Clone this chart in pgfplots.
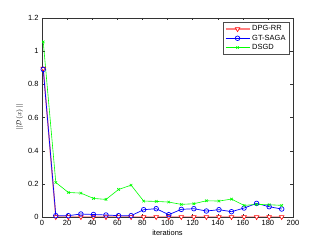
\documentclass[border=0pt]{standalone}
\usepackage{pgfplots}
\pgfplotsset{compat=1.18}
\usepackage{fontspec}
\setmainfont{Liberation Sans}
\begin{document}
\begin{tikzpicture}
\begin{axis}[
  scale only axis, width=251pt, height=199pt,
  xmin=0, xmax=200, ymin=0, ymax=1.2,
  xtick={0,20,...,200}, ytick={0,0.2,...,1.2},
  yticklabels={0,0.2,0.4,0.6,0.8,1,1.2},
  tick align=inside, tick pos=both,
  major tick length=2.5pt,
  axis line style={black!80, line width=0.4pt},
  tick style={black!80},
  font=\fontsize{7.5}{9}\selectfont,
  /pgf/number format/assume math mode=true,
  xlabel={iterations}, ylabel={$||\mathcal{D}(x)||$},
  xlabel style={yshift=3pt}, ylabel style={yshift=-2pt},
  legend style={font=\fontsize{7.5}{9}\selectfont, draw=black!70, inner sep=1.5pt, row sep=-1.5pt, at={(0.985,0.98)}, anchor=north east},
  legend cell align=left,
  legend image code/.code={\draw[#1] (0pt,0pt) -- (24pt,0pt); \draw[#1, only marks] plot coordinates {(12pt,0pt)};},
]
\addplot[draw=red!50, line width=1.3pt, mark=triangle*, mark size=2.6pt, mark options={rotate=180, draw=red, fill=white, line width=0.6pt}] coordinates {
(1,0.895) (11,0) (21,0) (31,0) (41,0) (51,0) (61,0) (71,0) (81,0) (91,0) (101,0) (111,0) (121,0) (131,0) (141,0) (151,0) (161,0) (171,0) (181,0) (191,0)};
\addlegendentry{DPG-RR}
\addplot[color=blue, line width=0.7pt, mark=o, mark size=2.3pt] coordinates {
(1,0.89) (11,0.008) (21,0.008) (31,0.018) (41,0.015) (51,0.012) (61,0.008) (71,0.008) (81,0.044) (91,0.05) (101,0.014) (111,0.046) (121,0.05) (131,0.036) (141,0.044) (151,0.032) (161,0.054) (171,0.082) (181,0.062) (191,0.048)};
\addlegendentry{GT-SAGA}
\addplot[color=green, line width=0.6pt, mark=x, mark size=1.8pt] coordinates {
(1,1.056) (11,0.208) (21,0.148) (31,0.144) (41,0.112) (51,0.106) (61,0.166) (71,0.192) (81,0.096) (91,0.094) (101,0.09) (111,0.076) (121,0.08) (131,0.098) (141,0.096) (151,0.108) (161,0.07) (171,0.076) (181,0.074) (191,0.07)};
\addlegendentry{DSGD}
\end{axis}
\path (current axis.south west) ++(-42pt,-28pt) coordinate (bl);
\path (current axis.north east) ++(34pt,18pt) coordinate (tr);
\useasboundingbox (bl) rectangle (tr);
\end{tikzpicture}
\end{document}
